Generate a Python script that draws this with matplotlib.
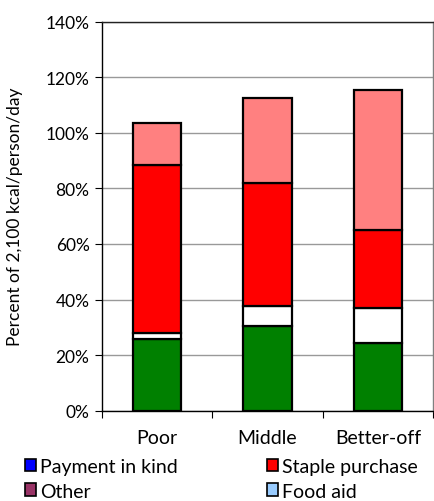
import matplotlib
matplotlib.use('Agg')
from matplotlib import pyplot as plt
from matplotlib.patches import Patch
import numpy as np

plt.rcParams['font.family'] = ['Lato', 'DejaVu Sans']

groups = ['Poor', 'Middle', 'Better-off']

# stacked sources, % of 2,100 kcal/person/day
crops = [25.8, 30.6, 24.4]
livestock = [2.0, 7.2, 12.4]
staple_purchase = [60.7, 44.1, 28.2]
non_staple_purchase = [14.9, 30.7, 50.4]

series = [crops, livestock, staple_purchase, non_staple_purchase]
series_colors = ['#008000', '#FFFFFF', '#FF0000', '#FF8080']

legend_labels = ['Payment in kind', 'Other', 'Staple purchase', 'Food aid']
legend_colors = ['#0000FF', '#993366', '#FF0000', '#99CCFF']

yticks = [0, 20, 40, 60, 80, 100, 120, 140]

fig = plt.figure(figsize=(4.35, 5.02), dpi=100)
ax = fig.add_axes([0.2345, 0.18, 0.761, 0.7748])

x = np.arange(len(groups))
bottom = np.zeros(len(groups))
for vals, col in zip(series, series_colors):
    ax.bar(x, vals, width=0.44, bottom=bottom, color=col,
           edgecolor='black', linewidth=1.6, zorder=3)
    bottom += np.array(vals)

ax.set_xlim(-0.5, 2.5)
ax.set_ylim(0, 140)
ax.set_yticks(yticks)
ax.set_yticklabels(['%d%%' % t for t in yticks], fontsize=12.5)
ax.yaxis.grid(True, color='#999999', linewidth=1.0, zorder=0)
ax.tick_params(axis='y', direction='out', length=5, width=0.8, pad=4)

ax.set_xticks(x)
ax.set_xticklabels(groups, fontsize=14)
ax.set_xticks([-0.5, 0.5, 1.5, 2.5], minor=True)
ax.tick_params(axis='x', which='major', length=0, pad=13)
ax.tick_params(axis='x', which='minor', direction='out', length=5, width=0.8)

ax.set_ylabel('Percent of 2,100 kcal/person/day', fontsize=12.5, labelpad=16)

ax.spines['left'].set_color('black')
ax.spines['bottom'].set_color('black')
ax.spines['top'].set_color('#222222')
ax.spines['right'].set_color('#808080')
for s in ax.spines.values():
    s.set_linewidth(1.0)

handles = [Patch(facecolor=c, edgecolor='black', linewidth=1.2) for c in legend_colors]
fig.legend(handles, legend_labels, ncol=2, loc='upper left',
           bbox_to_anchor=(0.058, 0.086), frameon=False, fontsize=14,
           handlelength=0.55, handleheight=0.65, handletextpad=0.2,
           columnspacing=4.6, labelspacing=0.4, borderaxespad=0, borderpad=0)

fig.savefig('out.png', dpi=100)
